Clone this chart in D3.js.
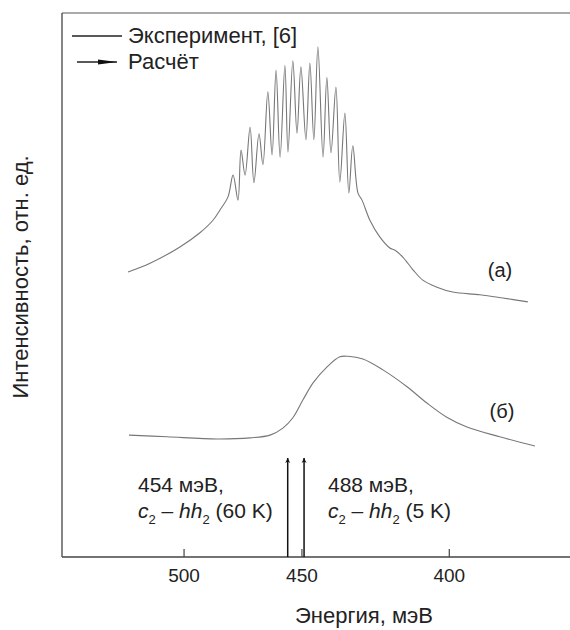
<!DOCTYPE html>
<html>
<head>
<meta charset="utf-8">
<script src="https://cdn.jsdelivr.net/npm/d3@7"></script>
<style>
  body { margin: 0; background: #fff; }
  text { font-family: "Liberation Sans", Arial, sans-serif; fill: #222; }
</style>
</head>
<body>
<div id="chart"></div>
<script>
// energy in meV, intensity in arbitrary units
const expEnergy = [527.6, 516.3, 501.7, 492.4, 486.5, 483.4, 479.9, 477.7, 475.6, 474.3, 472.6, 470.5, 468.9,
    466.8, 465.2, 463.2, 461.5, 459.9, 458.3, 456.4, 455.2, 453.3, 451.7, 450.2, 448.3, 446.8, 445.3, 443.8,
    441.9, 440.5, 439.0, 437.2, 435.8, 434.0, 432.6, 431.2, 429.4, 428.0, 425.3, 421.9, 418.6, 416.9, 414.3,
    411.1, 408.0, 403.6, 398.8, 390.8, 384.3, 377.5];
const expIntensity = [52.4, 54.0, 57.0, 59.6, 61.9, 63.8, 66.2, 70.2, 65.6, 74.8, 70.2, 79.0, 68.8,
    77.8, 72.1, 85.5, 73.9, 89.5, 73.5, 90.4, 74.4, 91.2, 77.9, 90.1, 76.7, 90.8, 76.7, 93.8,
    73.5, 88.2, 74.3, 86.4, 68.9, 81.6, 66.9, 75.6, 66.9, 65.6, 61.9, 58.8, 56.8, 56.4, 55.1,
    52.8, 50.9, 49.6, 48.7, 48.2, 47.6, 46.9];

const calcEnergy = [527.1, 507.9, 484.7, 470.5, 462.3, 457.2, 453.3, 449.4, 445.6, 440.5, 435.8, 432.9,
    427.7, 420.9, 413.0, 406.7, 400.6, 394.6, 385.2, 375.6];
const calcIntensity = [22.4, 22.1, 21.7, 21.9, 22.4, 23.7, 25.6, 28.9, 32.0, 34.9, 36.8, 36.9,
    36.4, 34.4, 31.3, 28.3, 25.7, 23.9, 22.1, 20.4];

const arrowEnergy = [455.3, 449.0];
const arrowHeight = [18.2, 18.2];

const tickEnergy = [500, 450, 400];

const width = 570, height = 630;
const mLeft = 62, mTop = 13, mBottom = 557;

const svg = d3.select('#chart').append('svg')
    .attr('width', width)
    .attr('height', height);

// axis is linear in wavelength (1240 / E), labelled in energy
const x = d3.scaleLinear().domain([1240 / 564.7, 1240 / 366.5]).range([mLeft, 570]);
const y = d3.scaleLinear().domain([0, 100]).range([mBottom, mTop]);
const xE = e => x(1240 / e);

svg.append('defs').append('marker')
    .attr('id', 'head')
    .attr('viewBox', '0 0 10 10')
    .attr('refX', 10).attr('refY', 5)
    .attr('markerWidth', 5).attr('markerHeight', 13)
    .attr('markerUnits', 'userSpaceOnUse')
    .attr('orient', 'auto')
    .append('path').attr('d', 'M0,0 L10,5 L0,10 L3,5 Z').attr('fill', '#111');

// frame
svg.append('line').attr('x1', mLeft).attr('x2', width).attr('y1', mTop).attr('y2', mTop)
    .attr('stroke', '#aaa').attr('stroke-width', 2);
svg.append('line').attr('x1', mLeft).attr('x2', mLeft).attr('y1', mTop).attr('y2', mBottom)
    .attr('stroke', '#444').attr('stroke-width', 1.3);

const xAxis = d3.axisBottom(x)
    .tickValues(tickEnergy.map(e => 1240 / e))
    .tickFormat(d => Math.round(1240 / d))
    .tickSizeInner(-8).tickSizeOuter(0).tickPadding(12);
const gx = svg.append('g').attr('transform', `translate(0,${mBottom})`).call(xAxis);
gx.select('.domain').attr('stroke', '#444').attr('stroke-width', 1.3).attr('d', `M${mLeft},0H${width}`);
gx.selectAll('.tick line').attr('stroke', '#444').attr('stroke-width', 1.2);
gx.selectAll('.tick text').attr('font-size', 19).attr('fill', '#222')
    .style('font-family', '"Liberation Sans", Arial, sans-serif');

svg.append('text').attr('x', 364).attr('y', 623).attr('text-anchor', 'middle')
    .attr('font-size', 22).text('Энергия, мэВ');
svg.append('text').attr('transform', 'translate(28,277) rotate(-90)').attr('text-anchor', 'middle')
    .attr('font-size', 22).text('Интенсивность, отн. ед.');

const line = d3.line().x(d => xE(d[0])).y(d => y(d[1])).curve(d3.curveCatmullRom.alpha(0.5));

svg.append('path').datum(d3.zip(expEnergy, expIntensity))
    .attr('d', line).attr('fill', 'none').attr('stroke', '#777').attr('stroke-width', 1.1);
svg.append('path').datum(d3.zip(calcEnergy, calcIntensity))
    .attr('d', line).attr('fill', 'none').attr('stroke', '#777').attr('stroke-width', 1.1);

svg.append('text').attr('x', 500).attr('y', 277).attr('text-anchor', 'middle').attr('font-size', 20).text('(a)');
svg.append('text').attr('x', 502).attr('y', 418).attr('text-anchor', 'middle').attr('font-size', 20).text('(б)');

// calculated transitions
svg.selectAll('.arrow').data(d3.zip(arrowEnergy, arrowHeight)).enter().append('line')
    .attr('class', 'arrow')
    .attr('x1', d => xE(d[0])).attr('x2', d => xE(d[0]))
    .attr('y1', y(0)).attr('y2', d => y(d[1]))
    .attr('stroke', '#111').attr('stroke-width', 1.5)
    .attr('marker-end', 'url(#head)');

function label(x0, energy, temp) {
    svg.append('text').attr('x', x0).attr('y', 492).attr('font-size', 21).text(energy + ' мэВ,');
    const t = svg.append('text').attr('x', x0).attr('y', 518).attr('font-size', 21);
    t.append('tspan').attr('font-style', 'italic').text('c');
    t.append('tspan').attr('font-size', 13).attr('dy', 6).text('2');
    t.append('tspan').attr('dy', -6).text(' – ');
    t.append('tspan').attr('font-style', 'italic').text('hh');
    t.append('tspan').attr('font-size', 13).attr('dy', 6).text('2');
    t.append('tspan').attr('dy', -6).text(' (' + temp + ')');
}
label(138, 454, '60 K');
label(328, 488, '5 K');

// legend
svg.append('line').attr('x1', 72).attr('x2', 122).attr('y1', 36).attr('y2', 36)
    .attr('stroke', '#222').attr('stroke-width', 1.3);
svg.append('text').attr('x', 128).attr('y', 43).attr('font-size', 22).text('Эксперимент, [6]');
svg.append('line').attr('x1', 77).attr('x2', 117).attr('y1', 62).attr('y2', 62)
    .attr('stroke', '#222').attr('stroke-width', 1.3);
svg.append('path').attr('d', 'M98,59.5 L117,62 L98,64.5 Z').attr('fill', '#111');
svg.append('text').attr('x', 128).attr('y', 69).attr('font-size', 22).text('Расчёт');
</script>
</body>
</html>
